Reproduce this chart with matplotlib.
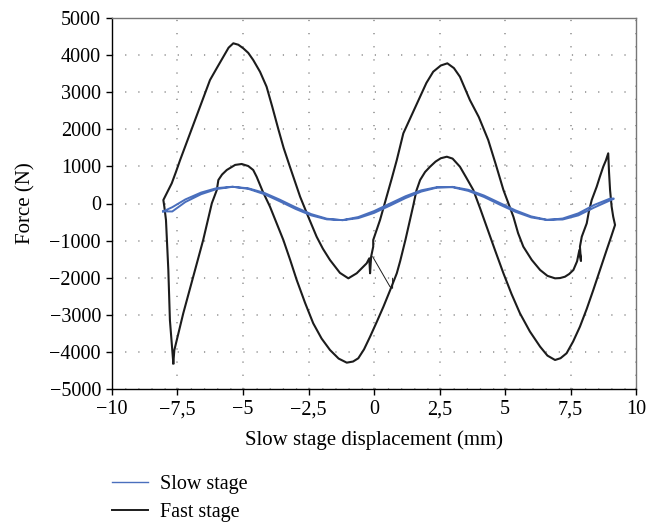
import numpy as np
import matplotlib
matplotlib.use("Agg")
import matplotlib.pyplot as plt
from matplotlib.lines import Line2D
from matplotlib.ticker import FuncFormatter

plt.rcParams["font.family"] = ["Liberation Serif", "DejaVu Serif"]

# Slow stage: thin loop, outgoing and return branch on the same x grid
slow_x = [-8.05, -7.7, -7.2, -6.6, -6.0, -5.4, -4.8, -4.2, -3.6, -3.0, -2.4, -1.8,
          -1.2, -0.6, 0.0, 0.6, 1.2, 1.8, 2.4, 3.0, 3.6, 4.2, 4.8, 5.4, 6.0, 6.6,
          7.2, 7.8, 8.4, 9.0, 9.15]
slow_out = [-213, -215, 40, 250, 390, 450, 410, 290, 105, -100, -285, -410,
            -450, -395, -255, -60, 145, 320, 428, 448, 370, 215, 15, -185, -348, -438,
            -432, -320, -110, 80, 125]
slow_ret = [-213, -100, 110, 295, 415, 452, 395, 255, 60, -145, -320, -428,
            -447, -365, -205, -5, 195, 355, 440, 438, 340, 175, -30, -225, -375, -445,
            -405, -265, -40, 130, 135]

# Fast stage: one closed loop, traced point by point
fast_x = [-7.66, -7.62, -7.45, -7.28, -7.09, -6.90, -6.71, -6.52, -6.35, -6.19, -6.00, -5.94,
          -5.80, -5.62, -5.30, -5.05, -4.80, -4.61, -4.48, -4.25, -3.97, -3.72, -3.46,
          -3.20, -2.95, -2.63, -2.32, -2.00, -1.68, -1.35, -1.04, -0.80, -0.60, -0.38,
          -0.15, 0.10, 0.36, 0.62, 0.87, 1.00, 1.20, 1.37, 1.50, 1.62, 1.76, 1.95, 2.14,
          2.35, 2.55, 2.78, 3.00, 3.28, 3.52, 3.79, 4.05, 4.30, 4.62, 4.94, 5.25, 5.57,
          5.95, 6.34, 6.62, 6.91, 7.12, 7.35, 7.60, 7.86, 8.12, 8.37, 8.62, 8.88, 9.05,
          9.20, 9.13, 9.07, 9.01, 8.97, 8.94, 8.85, 8.75, 8.62, 8.50, 8.31, 8.20, 8.12,
          7.93, 7.86, 7.90, 7.84, 7.75, 7.61, 7.45, 7.29, 7.10, 6.91, 6.62, 6.34, 6.02,
          5.70, 5.50, 5.32, 5.13, 4.94, 4.65, 4.36, 4.00, 3.66, 3.28, 3.05, 2.80, 2.55,
          2.26, 2.00, 1.76, 1.45, 1.12, 0.87, 0.68, 0.48, 0.23, 0.08, -0.03, -0.03,
          -0.11, -0.15, -0.18, -0.28, -0.66, -0.98, -1.30, -1.68, -1.95, -2.19, -2.51,
          -2.82, -3.21, -3.45, -3.65, -3.88, -4.10, -4.35, -4.61, -4.80, -4.99, -5.18,
          -5.37, -5.55, -5.75, -6.00, -6.26, -6.45, -6.64, -6.83, -7.02, -7.21, -7.40,
          -7.56, -7.72, -7.91, -8.04, -8.00, -7.94, -7.85, -7.79, -7.66]
fast_f = [-4307, -3950, -3450, -2960, -2470, -1972, -1480, -984, -480, 5, 364, 633,
          780, 903, 1040, 1065, 1010, 903, 722, 330, -86, -530, -984,
          -1520, -2062, -2680, -3229, -3640, -3948, -4180, -4290, -4260, -4172, -3930,
          -3590, -3200, -2781, -2330, -1881, -1550, -980, -450, -50, 350, 633, 850, 992,
          1130, 1220, 1261, 1210, 992, 700, 364, -130, -625, -1260, -1881, -2440, -2959,
          -3450, -3859, -4100, -4218, -4170, -4037, -3720, -3320, -2840, -2331, -1800, -1253, -900,
          -579, -356, -86, 364, 850, 1353, 1160, 992, 720, 453, 94, -220, -534,
          -895, -1164, -1550, -1250, -1560, -1792, -1900, -1973, -2010, -2017, -1950, -1792, -1520,
          -1164, -800, -356, 0, 364, 1050, 1711, 2330, 2789, 3417, 3650, 3778, 3720,
          3552, 3250, 2878, 2400, 1892, 1172, 680, 183, -445, -760, -984, -1164,
          -1434, -1881, -1477, -1612, -1881, -2017, -1870, -1523, -1220, -895, -356,
          183, 992, 1500, 2000, 2600, 3148, 3550, 3868, 4060, 4183, 4280,
          4318, 4200, 3958, 3650, 3328, 2970, 2610, 2250, 1892, 1530, 1172,
          850, 544, 275, 94, -100, -445, -1792, -3140, -4307]

# stray trace near x = 0
glitch_x = [-0.05, 0.61, 0.71, 0.71]
glitch_f = [-1434, -2242, -2285, -2016]

x_ticks = [-10, -7.5, -5, -2.5, 0, 2.5, 5, 7.5, 10]
y_ticks = [-5000, -4000, -3000, -2000, -1000, 0, 1000, 2000, 3000, 4000, 5000]

blue = "#4a6fbd"
black = "#1c1c1c"

fig = plt.figure(figsize=(6.59, 5.22), dpi=100)
ax = fig.add_axes([112 / 659, 1 - 389 / 522, 524 / 659, 371 / 522])

ax.plot(slow_x + slow_x[::-1], slow_out + slow_ret[::-1], color=blue, lw=1.4, zorder=3)
ax.plot(fast_x, fast_f, color=black, lw=1.5, zorder=2)
ax.plot(glitch_x, glitch_f, color=black, lw=0.7, zorder=2)

ax.set_xlim(-10, 10)
ax.set_ylim(-5000, 5000)
ax.set_xticks(x_ticks)
ax.set_yticks(y_ticks)


def comma_fmt(v, pos):
    s = ("%g" % v).replace(".", ",")
    return s.replace("-", "\u2212")


ax.xaxis.set_major_formatter(FuncFormatter(comma_fmt))
ax.yaxis.set_major_formatter(FuncFormatter(comma_fmt))
ax.tick_params(axis="both", direction="out", length=4, width=1, labelsize=14.5, pad=4,
               top=False, right=False)

ax.grid(True, color="#8c8c8c", linestyle=(0, (0.8, 7.8)), linewidth=1.1)
ax.set_axisbelow(True)

for side in ["left", "bottom"]:
    ax.spines[side].set_color("black")
    ax.spines[side].set_linewidth(1.0)
for side in ["top", "right"]:
    ax.spines[side].set_color("#777777")
    ax.spines[side].set_linewidth(1.0)

ax.set_xlabel("Slow stage displacement (mm)", fontsize=15, labelpad=8)
ax.set_ylabel("Force (N)", fontsize=15, labelpad=10)

handles = [Line2D([], [], color=blue, lw=1.0), Line2D([], [], color=black, lw=1.4)]
fig.legend(handles, ["Slow stage", "Fast stage"], loc="upper left",
           bbox_to_anchor=(112 / 659, 1 - 475 / 522), frameon=False, fontsize=14.5,
           handlelength=1.8, handletextpad=0.6, labelspacing=0.45,
           borderpad=0, borderaxespad=0)

fig.savefig("out.png", dpi=100)
